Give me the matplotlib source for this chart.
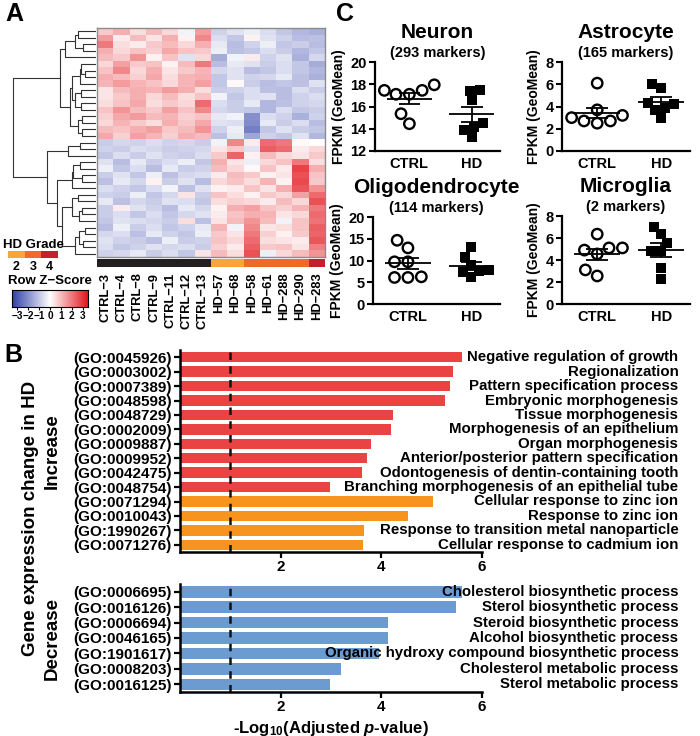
import numpy as np
import matplotlib.pyplot as plt
import seaborn as sns
from matplotlib.colors import LinearSegmentedColormap, ListedColormap

plt.rcParams['font.family'] = ['Liberation Sans', 'DejaVu Sans']
plt.rcParams['font.weight'] = 'bold'
plt.rcParams['axes.labelweight'] = 'bold'
plt.rcParams['mathtext.fontset'] = 'custom'
plt.rcParams['mathtext.rm'] = 'Liberation Sans:bold'
plt.rcParams['mathtext.it'] = 'Liberation Sans:italic:bold'
plt.rcParams['mathtext.bf'] = 'Liberation Sans:bold'

# ---------------- panel A data
samples = ['CTRL\u22123', 'CTRL\u22124', 'CTRL\u22128', 'CTRL\u22129', 'CTRL\u221211',
           'CTRL\u221212', 'CTRL\u221213', 'HD\u221257', 'HD\u221268', 'HD\u221258',
           'HD\u221261', 'HD\u2212288', 'HD\u2212290', 'HD\u2212283']
hd_grade = [0, 0, 0, 0, 0, 0, 0, 2, 2, 3, 3, 3, 3, 4]   # 0 = control
grade_levels = [2, 3, 4]

# row z-scores (rows = genes, cols = samples)
zscores = [
    [0.8, 1.2, 0.5, 1.0, 0.6, -0.2, 1.5, -0.8, -0.5, -0.3, -0.6, -1.0, -1.3, -1.4],
    [1.5, 0.3, 1.0, 0.4, 1.2, 0.2, 1.8, -0.6, -1.0, 0.2, -0.5, -0.8, -1.2, -1.1],
    [0.6, 1.4, 0.8, 0.9, 0.2, 1.0, 2.0, -1.2, -0.4, -0.5, -0.9, -0.6, -1.0, -1.5],
    [2.0, 0.5, 0.3, 0.8, 1.0, 0.6, 1.2, -0.4, -1.2, -0.8, -0.3, -1.0, -0.9, -1.2],
    [1.0, 0.8, 1.6, 0.2, 0.9, -0.5, 0.6, -1.5, -0.2, 0.3, -0.8, -0.5, -1.4, -0.7],
    [0.4, 1.0, 1.2, 1.1, 1.5, 1.2, 0.5, -0.9, -0.8, -0.6, -1.1, -1.2, -0.6, -0.9],
    [1.2, 0.6, 0.9, 0.7, 1.3, 0.9, 0.8, -0.3, -1.1, -1.0, -0.6, -0.9, -1.3, -1.0],
    [0.9, 1.8, 0.6, 1.2, 0.4, 0.8, 1.1, -0.7, -0.5, -1.2, -1.0, -0.6, -1.0, -1.3],
    [0.5, 0.9, 1.3, 0.5, 0.8, 0.6, 2.2, -0.6, -0.9, -0.4, -1.3, -1.1, -0.8, -0.7],
    [1.1, 1.5, 1.1, 0.9, 0.6, 1.1, 1.4, -1.0, 0.1, -0.9, -1.2, -1.0, -1.1, -0.5],
    [0.7, 1.3, 1.5, 1.0, 1.1, 0.7, 0.9, -0.4, -0.2, -2.0, -0.6, -0.8, -1.4, -0.8],
    [1.0, 0.9, 1.2, 1.4, 0.8, 1.0, 1.6, -0.8, -0.3, -2.3, -1.0, -0.5, -0.9, -1.0],
    [0.6, 1.1, 0.8, 0.5, 1.2, 0.8, 1.3, -0.5, -0.6, -2.1, -0.4, -0.9, -0.6, -1.2],
    [1.3, 0.7, 1.4, 1.1, 0.7, 1.2, 1.0, -1.1, -0.4, -1.6, -0.8, -1.0, -0.5, -1.3],
    [0.9, 1.6, 1.0, 0.8, 1.4, 0.9, 1.8, -0.7, -0.9, -1.0, -1.3, -0.6, -1.0, -0.9],
    [0.4, 0.8, 1.2, 0.6, 1.0, 0.5, 0.9, -0.2, -1.0, -0.6, -0.5, -1.2, -0.8, -0.6],
    [1.2, 1.0, 0.7, 1.3, 0.5, 1.1, 1.2, -1.0, -0.5, -0.8, -0.7, -0.4, -1.1, -1.4],
    [-0.9, -0.7, -0.8, -0.6, -0.8, -0.7, -0.9, -0.2, 1.8, 0.3, 2.2, 2.0, 0.1, 0.0],
    [-0.8, -0.9, -0.6, -0.7, -0.9, -0.8, -0.7, 0.4, 0.8, -0.5, 2.4, 2.2, 0.3, 0.6],
    [-1.0, -0.6, -0.9, -0.5, -0.8, -0.9, -0.6, 0.8, 2.3, 0.2, 1.0, 0.6, 0.4, 0.8],
    [-0.5, -1.2, -0.4, -0.9, -0.6, -0.3, -1.0, 1.2, 0.4, -0.3, 0.6, 0.9, 2.0, 0.5],
    [-0.9, -0.5, -1.0, -0.3, -1.1, -0.7, -0.6, 0.3, 1.0, 0.8, 0.2, 0.4, 2.6, 0.9],
    [-0.3, -1.0, -0.6, -1.2, -0.4, -0.9, -0.8, 1.0, 0.6, 0.1, 0.9, 0.3, 2.8, 1.2],
    [-1.1, -0.4, -0.7, 0.2, -0.9, -0.5, -1.2, 0.6, 0.9, 0.5, 1.1, 0.2, 2.7, 0.8],
    [-0.6, -0.8, -1.0, -0.6, -0.2, -1.1, -0.5, 0.2, 0.3, 0.9, 0.4, 1.2, 2.5, 1.6],
    [-0.8, -0.9, -0.3, -1.0, -0.7, 0.4, -0.9, 0.9, 0.5, 0.2, 0.8, 0.6, 1.4, 2.2],
    [-1.2, -0.3, -0.9, -0.6, -1.0, -0.8, -0.4, 1.1, -0.2, 1.8, 0.4, 0.5, 0.9, 2.4],
    [-0.4, -1.1, -0.7, -0.9, -0.5, -0.6, -1.0, 0.5, 0.7, 0.6, 0.3, 1.0, 0.6, 2.6],
    [-0.7, -0.6, -1.1, -0.4, -0.8, -1.0, -0.3, 0.8, 0.4, 2.0, 0.7, 0.2, 0.8, 2.3],
    [-0.9, 0.3, -0.5, -0.8, -1.2, -0.4, -0.7, 0.2, 1.2, 1.4, 0.9, 0.7, 1.1, 2.0],
    [-0.5, -0.8, -0.9, -1.1, -0.3, -0.9, -0.8, 0.9, 0.6, 2.2, 0.5, 0.4, 0.3, 2.5],
    [-1.0, -0.5, -0.6, -0.7, -0.9, 0.5, -1.1, 0.4, 1.0, 1.6, 1.0, -0.2, 0.9, 2.1],
    [-0.6, -1.0, -0.8, -0.5, -0.7, -0.6, -0.9, 0.7, 0.3, 2.4, 0.8, 0.9, 0.4, 1.9],
    [-0.8, -0.7, -0.4, -0.9, -0.6, -1.0, 0.4, 1.0, 0.5, 2.6, -0.3, 0.6, 1.0, 1.6],
    [-0.9, -0.6, -1.0, -0.6, -1.0, -0.7, -0.5, 0.3, 0.9, 1.2, 1.1, 0.4, 0.6, 2.2],
]

# ---------------- panel B data
go_up = ['(GO:0045926)', '(GO:0003002)', '(GO:0007389)', '(GO:0048598)', '(GO:0048729)',
         '(GO:0002009)', '(GO:0009887)', '(GO:0009952)', '(GO:0042475)', '(GO:0048754)',
         '(GO:0071294)', '(GO:0010043)', '(GO:1990267)', '(GO:0071276)']
terms_up = ['Negative regulation of growth', 'Regionalization', 'Pattern specification process',
            'Embryonic morphogenesis', 'Tissue morphogenesis', 'Morphogenesis of an epithelium',
            'Organ morphogenesis', 'Anterior/posterior pattern specification',
            'Odontogenesis of dentin-containing tooth',
            'Branching morphogenesis of an epithelial tube',
            'Cellular response to zinc ion', 'Response to zinc ion',
            'Response to transition metal nanoparticle', 'Cellular response to cadmium ion']
logp_up = [5.6, 5.42, 5.36, 5.26, 4.24, 4.2, 3.8, 3.72, 3.62, 2.98, 5.02, 4.52, 3.66, 3.64]
kind_up = ['dev', 'dev', 'dev', 'dev', 'dev', 'dev', 'dev', 'dev', 'dev', 'dev',
           'metal', 'metal', 'metal', 'metal']

go_down = ['(GO:0006695)', '(GO:0016126)', '(GO:0006694)', '(GO:0046165)', '(GO:1901617)',
           '(GO:0008203)', '(GO:0016125)']
terms_down = ['Cholesterol biosynthetic process', 'Sterol biosynthetic process',
              'Steroid biosynthetic process', 'Alcohol biosynthetic process',
              'Organic hydroxy compound biosynthetic process',
              'Cholesterol metabolic process', 'Sterol metabolic process']
logp_down = [5.6, 5.48, 4.13, 4.13, 3.95, 3.2, 2.98]
threshold = 1.0

# ---------------- panel C data
groups = ['CTRL', 'HD']
neuron_ctrl = [17.1, 17.45, 17.1, 17.95, 17.45, 15.35, 14.45]
neuron_hd = [17.45, 17.4, 16.55, 14.5, 14.15, 13.85, 13.25]
astro_ctrl = [6.1, 3.7, 2.7, 3.0, 2.5, 3.2, 2.7]
astro_hd = [5.7, 6.05, 4.3, 4.2, 3.7, 3.85, 3.0]
oligo_ctrl = [14.65, 12.9, 9.7, 9.7, 6.25, 6.1, 6.1]
oligo_hd = [13.0, 10.7, 9.0, 7.4, 7.8, 7.5, 6.1]
micro_ctrl = [6.35, 4.9, 5.1, 5.1, 4.55, 3.1, 2.55]
micro_hd = [7.0, 6.4, 5.55, 4.85, 4.85, 3.25, 2.3]

W, H = 700, 736
fig = plt.figure(figsize=(W / 100, H / 100), dpi=100)


def fax(l, t, r, b):
    # axes from pixel box (left, top, right, bottom)
    return fig.add_axes([l / W, 1 - b / H, (r - l) / W, (b - t) / H])


heat_cmap = LinearSegmentedColormap.from_list('bwr2', ['#2F3EA8', '#FFFFFF', '#E3161B'])
grade_colors = {2: '#F9A53B', 3: '#EF6A2A', 4: '#C3202E'}


def cluster_rows(m):
    # complete-linkage clustering, returns merge tree and root id
    n = len(m)
    d = np.sqrt(((m[:, None, :] - m[None, :, :]) ** 2).sum(-1))
    members = {i: [i] for i in range(n)}
    nodes = {i: (None, None, 0.0) for i in range(n)}
    nid = n
    while len(members) > 1:
        keys = list(members)
        best = None
        for i in range(len(keys)):
            for j in range(i + 1, len(keys)):
                a, b = keys[i], keys[j]
                dist = d[np.ix_(members[a], members[b])].max()
                if best is None or dist < best[0]:
                    best = (dist, a, b)
        dist, a, b = best
        if min(members[a]) > min(members[b]):
            a, b = b, a
        members[nid] = members.pop(a) + members.pop(b)
        nodes[nid] = (a, b, dist)
        nid += 1
    return nodes, nid - 1


def leaves(nodes, k):
    a, b, h = nodes[k]
    if a is None:
        return [k]
    return leaves(nodes, a) + leaves(nodes, b)


def panel_a():
    mat = np.array(zscores)
    nodes, root = cluster_rows(mat)
    order = leaves(nodes, root)
    pos = {leaf: i for i, leaf in enumerate(order)}
    n = len(order)

    ax_d = fax(12, 28, 96, 257)
    def draw(k):
        a, b, h = nodes[k]
        if a is None:
            return pos[k], 0.0
        ya, ha = draw(a)
        yb, hb = draw(b)
        ax_d.plot([ha, h, h, hb], [ya, ya, yb, yb], color='#333333', lw=0.8)
        return (ya + yb) / 2, h
    draw(root)
    ax_d.set_xlim(nodes[root][2] * 1.01, 0)
    ax_d.set_ylim(n - 0.5, -0.5)
    ax_d.axis('off')

    ax_h = fax(97, 28, 325, 257)
    ax_h.imshow(mat[order], aspect='auto', cmap=heat_cmap, vmin=-3.5, vmax=3.5,
                interpolation='nearest')
    ax_h.set_xticks([])
    ax_h.set_yticks([])
    for s in ax_h.spines.values():
        s.set_color('#8C8C8C')
        s.set_linewidth(1.0)

    # sample annotation bar
    ax_a = fax(97, 259, 325, 267)
    ann = ['#231F20' if g == 0 else grade_colors[g] for g in hd_grade]
    ax_a.bar(range(len(samples)), [1] * len(samples), width=1.0, color=ann)
    ax_a.set_xlim(-0.5, len(samples) - 0.5)
    ax_a.set_ylim(0, 1)
    ax_a.set_yticks([])
    ax_a.set_xticks(range(len(samples)))
    ax_a.set_xticklabels(samples, rotation=90, fontsize=9.3)
    ax_a.tick_params(axis='x', length=0, pad=4)
    for s in ax_a.spines.values():
        s.set_visible(False)

    # HD grade legend
    ax_g = fax(8, 251, 58, 258)
    ax_g.imshow([list(range(len(grade_levels)))], aspect='auto',
                cmap=ListedColormap([grade_colors[g] for g in grade_levels]))
    ax_g.set_yticks([])
    ax_g.set_xticks(range(len(grade_levels)))
    ax_g.set_xticklabels([str(g) for g in grade_levels], fontsize=9)
    ax_g.tick_params(axis='x', length=0, pad=2)
    for s in ax_g.spines.values():
        s.set_visible(False)
    ax_g.set_title('HD Grade', fontsize=9.5, fontweight='bold', pad=2)

    # colour key
    ax_c = fax(12, 290, 88, 307)
    ax_c.imshow(np.linspace(-3.5, 3.5, 256)[None, :], aspect='auto', cmap=heat_cmap,
                extent=(-3.5, 3.5, 0, 1))
    ax_c.set_yticks([])
    ax_c.set_xticks(range(-3, 4))
    ax_c.tick_params(axis='x', labelsize=7.2, length=2, pad=1)
    ax_c.set_title('Row Z\u2212Score', fontsize=9.5, fontweight='bold', pad=4)


def draw_bars(ax, codes, terms, vals, colors, height):
    pos = np.arange(len(vals))
    ax.barh(pos, vals, height=height, color=colors, zorder=1)
    ax.axvline(threshold, color='#111111', lw=1.8, ls=(0, (3, 2.5)), zorder=2)
    ax.set_ylim(len(vals) - 0.5, -0.5)
    ax.set_yticks(pos)
    ax.set_yticklabels(codes, fontsize=11)
    ax.set_xlim(0, 6)
    ax.set_xticks([2, 4, 6])
    ax.tick_params(labelsize=11, width=1.6, length=4, pad=2)
    for p, t in zip(pos, terms):
        ax.text(1.65, p, t, transform=ax.get_yaxis_transform(), ha='right', va='center',
                fontsize=10.8, zorder=3)
    for s in ['top', 'right']:
        ax.spines[s].set_visible(False)
    for s in ['left', 'bottom']:
        ax.spines[s].set_linewidth(1.8)


def panel_b():
    kind_color = {'dev': '#EA4344', 'metal': '#F7941E'}
    ax_u = fax(180, 350, 482, 552)
    draw_bars(ax_u, go_up, terms_up, logp_up, [kind_color[k] for k in kind_up], 0.72)
    ax_d = fax(180, 584, 482, 692)
    draw_bars(ax_d, go_down, terms_down, logp_down, '#6C9BD2', 0.75)
    ax_d.set_xlabel('-Log$_{10}$(Adjusted $\\mathit{p}$-value)', fontsize=12, labelpad=3)

    fig.text(31 / W, 1 - 518 / H, 'Gene expression change in HD', rotation=90,
             ha='center', va='center', fontsize=13.5)
    fig.text(52 / W, 1 - 451 / H, 'Increase', rotation=90, ha='center', va='center',
             fontsize=13.5)
    fig.text(52 / W, 1 - 638 / H, 'Decrease', rotation=90, ha='center', va='center',
             fontsize=13.5)


def dot_panel(box, ctrl, hd, title, subtitle, ymin, ymax, ystep):
    ax = fax(*box)
    sns.swarmplot(x=['CTRL'] * len(ctrl), y=ctrl, order=groups, ax=ax, marker='o',
                  size=7.5, color='black', facecolors='none', edgecolor='black',
                  linewidth=1.7)
    sns.swarmplot(x=['HD'] * len(hd), y=hd, order=groups, ax=ax, marker='s',
                  size=7, color='black', linewidth=0)
    for i, vals in enumerate([ctrl, hd]):
        v = np.array(vals)
        m = v.mean()
        sem = v.std(ddof=1) / np.sqrt(len(v))
        ax.hlines(m, i - 0.36, i + 0.36, color='black', lw=1.3, zorder=2)
        ax.hlines([m - sem, m + sem], i - 0.17, i + 0.17, color='black', lw=1.3, zorder=2)
        ax.vlines(i, m - sem, m + sem, color='black', lw=1.3, zorder=2)
    ax.set_xlim(-0.55, 1.45)
    ax.set_xticks([0, 1])
    ax.set_xticklabels(groups)
    ax.set_ylim(ymin, ymax)
    ax.set_yticks(np.arange(ymin, ymax + 0.01, ystep))
    ax.set_xlabel('')
    ax.set_ylabel('FPKM (GeoMean)', fontsize=10, labelpad=3)
    ax.tick_params(labelsize=10.5, width=1.5, length=4, pad=2)
    ax.tick_params(axis='x', length=0, pad=4)
    for s in ['top', 'right']:
        ax.spines[s].set_visible(False)
    for s in ['left', 'bottom']:
        ax.spines[s].set_linewidth(1.6)
    ax.annotate(title, xy=(0.5, 1), xycoords='axes fraction', xytext=(0, 30 * 0.72),
                textcoords='offset points', ha='center', va='center', fontsize=15)
    ax.annotate(subtitle, xy=(0.5, 1), xycoords='axes fraction', xytext=(0, 9 * 0.72),
                textcoords='offset points', ha='center', va='center', fontsize=10.5)


def panel_c():
    dot_panel((375, 62, 500, 151), neuron_ctrl, neuron_hd, 'Neuron', '(293 markers)', 12, 20, 2)
    dot_panel((562, 62, 690, 151), astro_ctrl, astro_hd, 'Astrocyte', '(165 markers)', 0, 8, 2)
    dot_panel((373, 217, 500, 304), oligo_ctrl, oligo_hd, 'Oligodendrocyte', '(114 markers)', 0, 20, 5)
    dot_panel((562, 216, 690, 304), micro_ctrl, micro_hd, 'Microglia', '(2 markers)', 0, 8, 2)


panel_a()
panel_b()
panel_c()

for letter, x, y in [('A', 14, 14), ('B', 13, 355), ('C', 345, 14)]:
    fig.text(x / W, 1 - y / H, letter, ha='center', va='center', fontsize=18)

fig.savefig('out.png', dpi=100)
